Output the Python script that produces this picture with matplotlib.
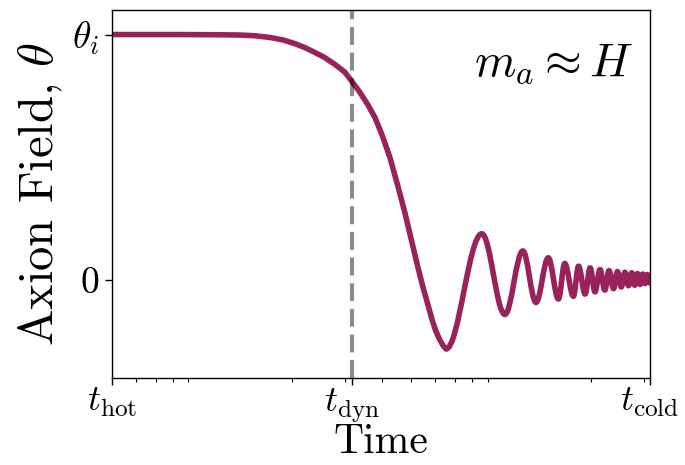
import matplotlib
matplotlib.use("Agg")
import matplotlib.pyplot as plt
import numpy as np
from matplotlib.path import Path
from matplotlib.patches import PathPatch
from matplotlib.ticker import LogLocator, NullFormatter, FixedLocator

plt.rcParams["mathtext.fontset"] = "cm"
plt.rcParams["font.family"] = "serif"
plt.rcParams["font.serif"] = ["cmr10", "DejaVu Serif"]
plt.rcParams["axes.formatter.use_mathtext"] = True

# characteristic times (log-spaced axis)
t_hot, t_dyn, t_cold = 0.05, 0.316, 3.14
time_ticks = [t_hot, t_dyn, t_cold]
time_labels = [r"$t_{\rm hot}$", r"$t_{\rm dyn}$", r"$t_{\rm cold}$"]
field_ticks = [0.0, 1.0]
field_labels = [r"$0$", r"$\theta_i$"]

# frozen phase and roll-down: log10(time) and field / theta_i
roll_log_time = [
    -1.302, -1.075, -0.941, -0.874, -0.823, -0.773, -0.730, -0.690, -0.657,
    -0.623, -0.590, -0.556, -0.523, -0.500, -0.473, -0.446, -0.422, -0.399,
    -0.372, -0.346, -0.322, -0.299, -0.279, -0.262, -0.245, -0.232, -0.219,
    -0.207, -0.195, -0.185,
]
roll_theta = [
    1.000, 1.000, 0.999, 0.998, 0.995, 0.988, 0.978, 0.963, 0.947,
    0.927, 0.906, 0.878, 0.847, 0.810, 0.765, 0.714, 0.661, 0.592,
    0.498, 0.384, 0.273, 0.155, 0.053, -0.029, -0.102, -0.160, -0.208,
    -0.241, -0.267, -0.282,
]

# turning points of the oscillation that follows: log10(time) and field / theta_i
osc_log_time = [
    -0.185, -0.065, 0.012, 0.072, 0.116, 0.157, 0.191, 0.212, 0.241,
    0.258, 0.280, 0.297, 0.313, 0.330, 0.346, 0.360, 0.375, 0.388,
    0.401, 0.413, 0.425, 0.436, 0.446, 0.455, 0.464, 0.473, 0.481,
    0.488, 0.495, 0.507,
]
osc_theta = [
    -0.282, 0.188, -0.141, 0.118, -0.092, 0.090, -0.078, 0.067, -0.067,
    0.056, -0.058, 0.049, -0.049, 0.042, -0.042, 0.038, -0.036, 0.034,
    -0.029, 0.031, -0.024, 0.029, -0.022, 0.026, -0.019, 0.024, -0.015,
    0.022, -0.012, 0.020,
]

# one path: straight pieces for the roll-down, cubic half-waves between turning points
verts = [(10.0 ** lt, th) for lt, th in zip(roll_log_time, roll_theta)]
codes = [Path.MOVETO] + [Path.LINETO] * (len(roll_log_time) - 1)
k = 0.3642
for i in range(len(osc_log_time) - 1):
    l0, l1 = osc_log_time[i], osc_log_time[i + 1]
    y0, y1 = osc_theta[i], osc_theta[i + 1]
    dl = l1 - l0
    verts += [(10.0 ** (l0 + k * dl), y0), (10.0 ** (l1 - k * dl), y1), (10.0 ** l1, y1)]
    codes += [Path.CURVE4] * 3

fig = plt.figure(figsize=(6.85, 4.65), dpi=100)
ax = fig.add_axes([0.1635, 0.1871, 0.9489 - 0.1635, 0.9785 - 0.1871])

ax.set_xscale("log")
ax.set_xlim(t_hot, t_cold)
ax.set_ylim(-0.4, 1.1)

curve = PathPatch(Path(verts, codes), fill=False, edgecolor="#99225a", lw=4,
                  joinstyle="round", capstyle="round", zorder=2)
ax.add_patch(curve)
ax.axvline(t_dyn, color="k", alpha=0.45, lw=3, dashes=(4.3, 1.85), zorder=3)

ax.xaxis.set_major_locator(FixedLocator(time_ticks))
ax.set_xticklabels(time_labels)
ax.xaxis.set_minor_locator(LogLocator(base=10, subs=np.arange(2, 10), numticks=20))
ax.xaxis.set_minor_formatter(NullFormatter())
ax.set_yticks(field_ticks)
ax.set_yticklabels(field_labels)

ax.tick_params(axis="y", which="major", labelsize=27, length=5, width=1, pad=4)
ax.tick_params(axis="x", which="major", labelsize=26, length=5, width=1, pad=1)
ax.tick_params(axis="x", which="minor", length=3, width=0.8)
for s in ax.spines.values():
    s.set_linewidth(1.0)

ax.set_xlabel("Time", fontsize=30, labelpad=-1)
ax.set_ylabel(r"Axion Field, $\theta$", fontsize=35, labelpad=5)

ax.text(0.968, 0.82, r"$m_a \approx H$", transform=ax.transAxes,
        fontsize=34, ha="right", va="baseline")

fig.savefig("out.png", dpi=100)
